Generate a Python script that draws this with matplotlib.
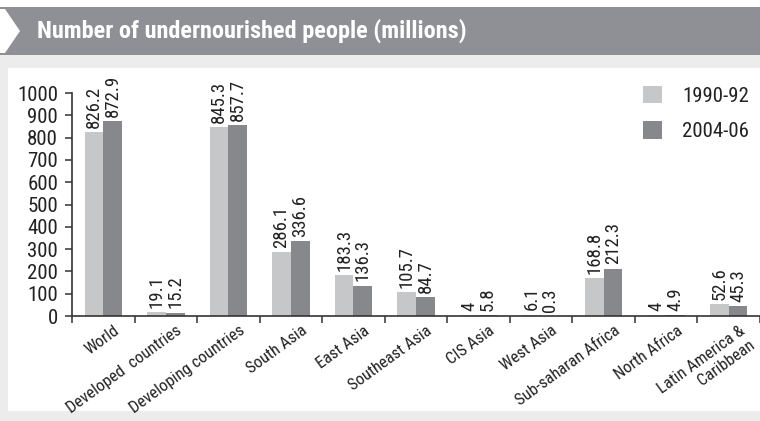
import numpy as np
import matplotlib
matplotlib.use("Agg")
import matplotlib.pyplot as plt
from matplotlib.patches import Rectangle, Polygon

# Data
regions = ["World", "Developed  countries", "Developing countries", "South Asia",
           "East Asia", "Southeast Asia", "CIS Asia", "West Asia",
           "Sub-saharan Africa", "North Africa", "Latin America &\nCaribbean"]
period_labels = ["1990-92", "2004-06"]
values_1990 = [826.2, 19.1, 845.3, 286.1, 183.3, 105.7, 4, 6.1, 168.8, 4, 52.6]
values_2004 = [872.9, 15.2, 857.7, 336.6, 136.3, 84.7, 5.8, 0.3, 212.3, 4.9, 45.3]
y_ticks = list(range(0, 1001, 100))

title = "Number of undernourished people (millions)"

light = "#c6c7c9"
dark = "#87888c"
band = "#8e9095"
textcol = "#222222"
narrow = ["Roboto Condensed", "Liberation Sans Narrow", "Liberation Sans", "DejaVu Sans"]

W, H = 760, 421
fig = plt.figure(figsize=(W / 100, H / 100), dpi=100)
fig.patch.set_facecolor("white")


def px(x, y):
    # pixel position (from top left) -> figure fraction
    return (x / W, 1 - y / H)


def fig_rect(x0, y0, x1, y1, color, z):
    r = Rectangle(px(x0, y1), (x1 - x0) / W, (y1 - y0) / H, transform=fig.transFigure,
                  facecolor=color, edgecolor="none", zorder=z)
    fig.add_artist(r)


# background frame pieces
fig_rect(0, 55, W, H, "#ececec", -5)
fig_rect(8, 68, W, 411, "white", -4)
fig_rect(0, 7, W, 55, band, -3)
chev = Polygon([px(0, 9), px(5, 9), px(20, 31), px(5, 53), px(0, 53)], closed=True,
               transform=fig.transFigure, facecolor="white", edgecolor="none", zorder=-2)
fig.add_artist(chev)
fig.text(37 / W, 1 - 31 / H, title, color="white", fontsize=17.5, fontweight="bold",
         family=narrow, fontstretch="condensed", ha="left", va="center")

# axes
ax = fig.add_axes([72 / W, 105 / H, 688 / W, 223 / H])
ax.set_facecolor("none")
x = np.arange(len(regions))
w = 0.3
b1 = ax.bar(x - w / 2, values_1990, w, color=light, label=period_labels[0])
b2 = ax.bar(x + w / 2, values_2004, w, color=dark, label=period_labels[1])

for bars, vals in ((b1, values_1990), (b2, values_2004)):
    for rect, v in zip(bars, vals):
        ax.annotate(f"{v:g}", (rect.get_x() + rect.get_width() / 2, v),
                    xytext=(0, 3), textcoords="offset points", rotation=90,
                    ha="center", va="bottom", fontsize=13.5, family=narrow,
                    fontstretch="condensed", color=textcol, annotation_clip=False)

ax.set_xlim(-0.5, len(regions) - 0.5)
ax.set_ylim(0, 1000)
ax.set_yticks(y_ticks)
ax.set_yticklabels([str(t) for t in y_ticks], family=narrow, fontstretch="condensed",
                   fontsize=15, color=textcol)
ax.tick_params(axis="y", direction="out", length=5, width=1.1, color="#333333", pad=5)

# labels sit a little right of the group centre in the original (ticks hidden)
ax.set_xticks(x + 0.16)
ax.set_xticklabels(regions, rotation=36, ha="right", va="top", rotation_mode="anchor",
                   family=narrow, fontstretch="condensed", fontsize=12, color=textcol)
ax.set_xticks(np.arange(-0.5, len(regions)), minor=True)
ax.tick_params(axis="x", which="major", length=0, pad=5)
ax.tick_params(axis="x", which="minor", direction="out", length=5, width=1.1, color="#333333")

for s in ("top", "right"):
    ax.spines[s].set_visible(False)
for s in ("left", "bottom"):
    ax.spines[s].set_color("#333333")
    ax.spines[s].set_linewidth(1.2)

fig.legend(handles=[b1, b2], labels=period_labels, loc="upper left",
           bbox_to_anchor=px(624, 67), frameon=False, handlelength=0.9,
           handleheight=0.9, handletextpad=1.0, labelspacing=0.75,
           prop={"family": narrow, "size": 15, "stretch": "condensed"}, labelcolor=textcol)

fig.savefig("out.png", dpi=100, facecolor=fig.get_facecolor())
